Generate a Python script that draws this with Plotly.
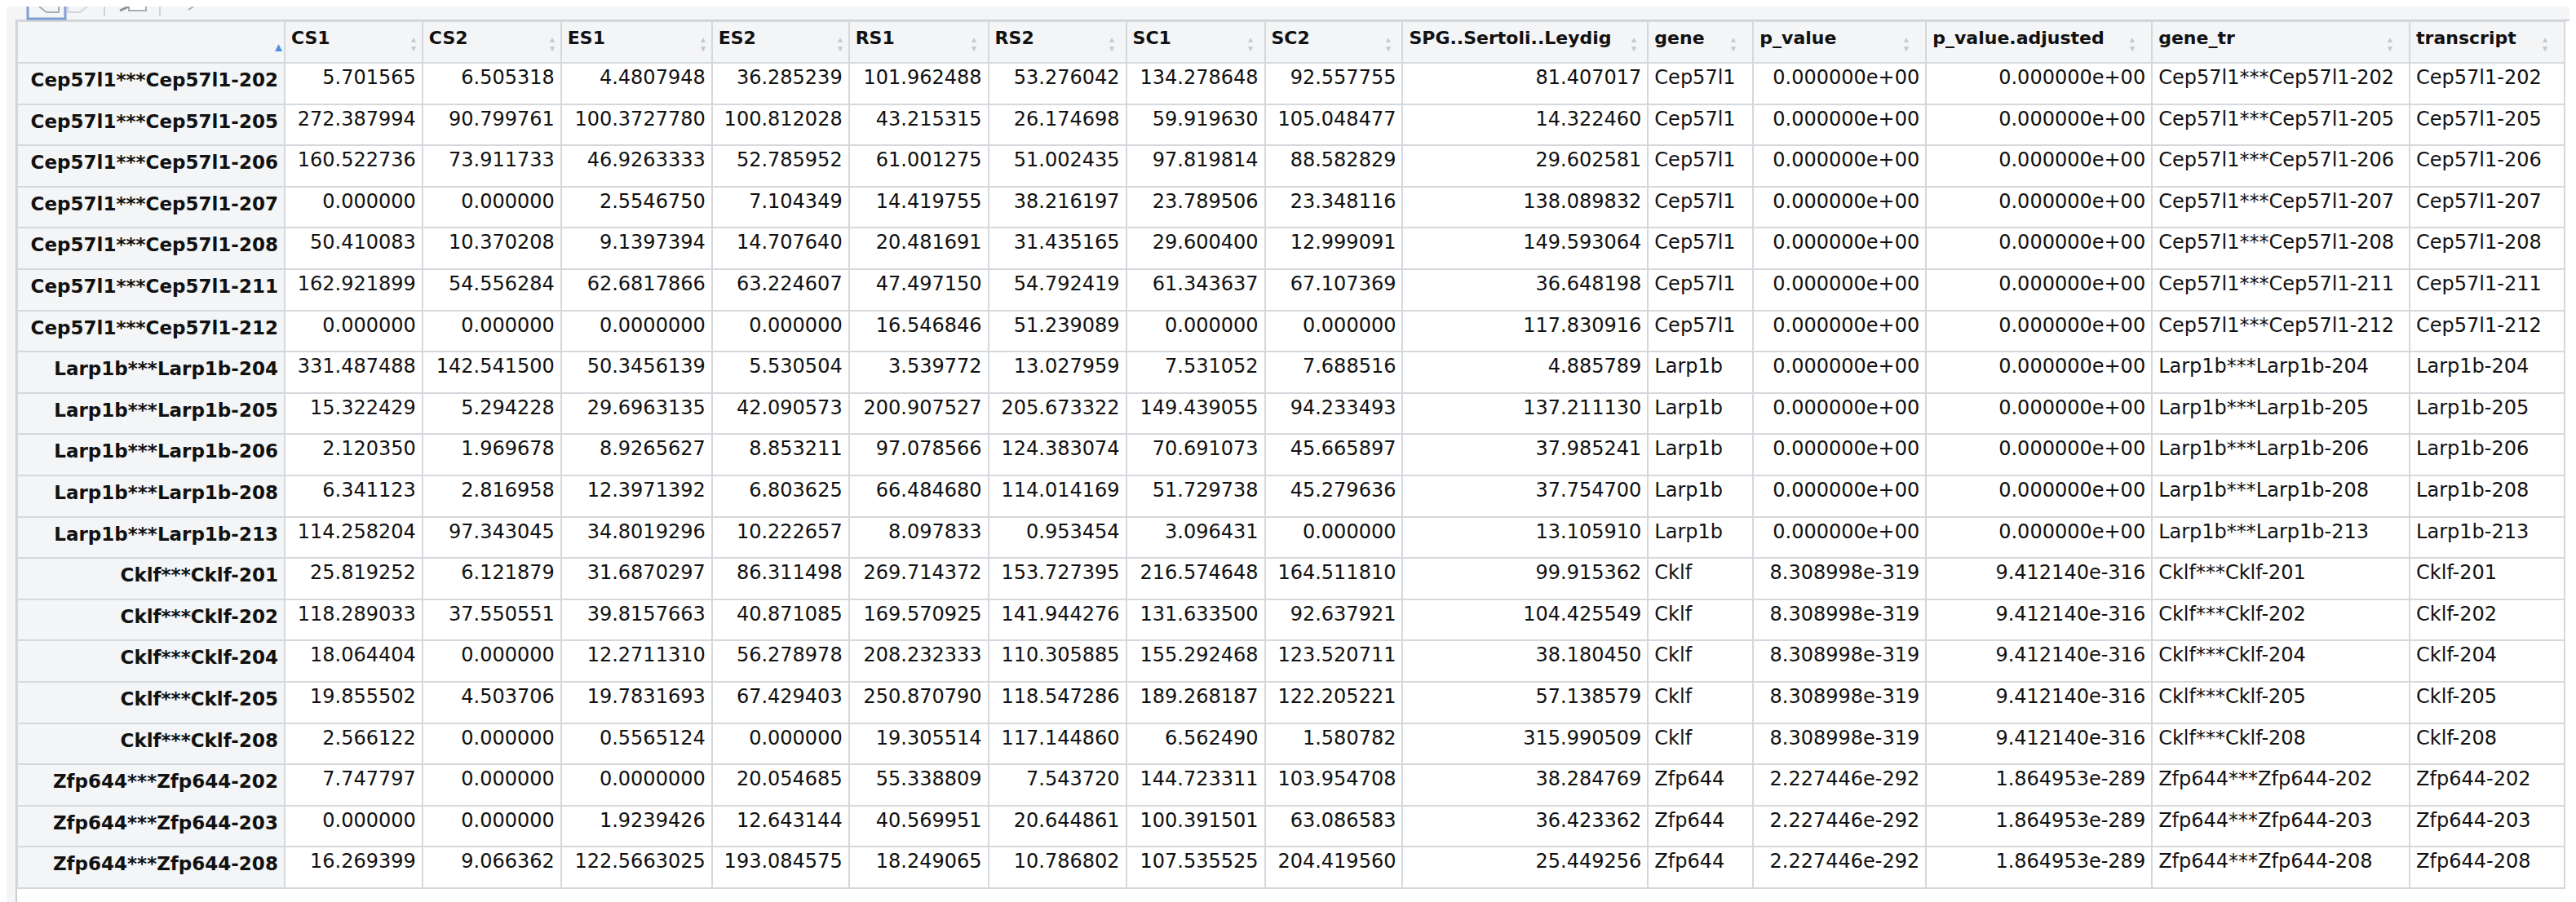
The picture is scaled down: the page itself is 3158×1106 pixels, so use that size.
import plotly.graph_objects as go

# ---------------- data ----------------
row_names = [
    "Cep57l1***Cep57l1-202", "Cep57l1***Cep57l1-205", "Cep57l1***Cep57l1-206",
    "Cep57l1***Cep57l1-207", "Cep57l1***Cep57l1-208", "Cep57l1***Cep57l1-211",
    "Cep57l1***Cep57l1-212", "Larp1b***Larp1b-204", "Larp1b***Larp1b-205",
    "Larp1b***Larp1b-206", "Larp1b***Larp1b-208", "Larp1b***Larp1b-213",
    "Cklf***Cklf-201", "Cklf***Cklf-202", "Cklf***Cklf-204", "Cklf***Cklf-205",
    "Cklf***Cklf-208", "Zfp644***Zfp644-202", "Zfp644***Zfp644-203",
    "Zfp644***Zfp644-208",
]
CS1 = [5.701565, 272.387994, 160.522736, 0.0, 50.410083, 162.921899, 0.0,
       331.487488, 15.322429, 2.120350, 6.341123, 114.258204,
       25.819252, 118.289033, 18.064404, 19.855502, 2.566122,
       7.747797, 0.0, 16.269399]
CS2 = [6.505318, 90.799761, 73.911733, 0.0, 10.370208, 54.556284, 0.0,
       142.541500, 5.294228, 1.969678, 2.816958, 97.343045,
       6.121879, 37.550551, 0.0, 4.503706, 0.0,
       0.0, 0.0, 9.066362]
ES1 = [4.4807948, 100.3727780, 46.9263333, 2.5546750, 9.1397394, 62.6817866, 0.0,
       50.3456139, 29.6963135, 8.9265627, 12.3971392, 34.8019296,
       31.6870297, 39.8157663, 12.2711310, 19.7831693, 0.5565124,
       0.0, 1.9239426, 122.5663025]
ES2 = [36.285239, 100.812028, 52.785952, 7.104349, 14.707640, 63.224607, 0.0,
       5.530504, 42.090573, 8.853211, 6.803625, 10.222657,
       86.311498, 40.871085, 56.278978, 67.429403, 0.0,
       20.054685, 12.643144, 193.084575]
RS1 = [101.962488, 43.215315, 61.001275, 14.419755, 20.481691, 47.497150, 16.546846,
       3.539772, 200.907527, 97.078566, 66.484680, 8.097833,
       269.714372, 169.570925, 208.232333, 250.870790, 19.305514,
       55.338809, 40.569951, 18.249065]
RS2 = [53.276042, 26.174698, 51.002435, 38.216197, 31.435165, 54.792419, 51.239089,
       13.027959, 205.673322, 124.383074, 114.014169, 0.953454,
       153.727395, 141.944276, 110.305885, 118.547286, 117.144860,
       7.543720, 20.644861, 10.786802]
SC1 = [134.278648, 59.919630, 97.819814, 23.789506, 29.600400, 61.343637, 0.0,
       7.531052, 149.439055, 70.691073, 51.729738, 3.096431,
       216.574648, 131.633500, 155.292468, 189.268187, 6.562490,
       144.723311, 100.391501, 107.535525]
SC2 = [92.557755, 105.048477, 88.582829, 23.348116, 12.999091, 67.107369, 0.0,
       7.688516, 94.233493, 45.665897, 45.279636, 0.0,
       164.511810, 92.637921, 123.520711, 122.205221, 1.580782,
       103.954708, 63.086583, 204.419560]
SPG = [81.407017, 14.322460, 29.602581, 138.089832, 149.593064, 36.648198, 117.830916,
       4.885789, 137.211130, 37.985241, 37.754700, 13.105910,
       99.915362, 104.425549, 38.180450, 57.138579, 315.990509,
       38.284769, 36.423362, 25.449256]
gene = ["Cep57l1"] * 7 + ["Larp1b"] * 5 + ["Cklf"] * 5 + ["Zfp644"] * 3
p_value = (["0.000000e+00"] * 12 + ["8.308998e-319"] * 5 + ["2.227446e-292"] * 3)
p_value_adjusted = (["0.000000e+00"] * 12 + ["9.412140e-316"] * 5 + ["1.864953e-289"] * 3)
gene_tr = list(row_names)
transcript = [
    "Cep57l1-202", "Cep57l1-205", "Cep57l1-206", "Cep57l1-207", "Cep57l1-208",
    "Cep57l1-211", "Cep57l1-212", "Larp1b-204", "Larp1b-205", "Larp1b-206",
    "Larp1b-208", "Larp1b-213", "Cklf-201", "Cklf-202", "Cklf-204", "Cklf-205",
    "Cklf-208", "Zfp644-202", "Zfp644-203", "Zfp644-208",
]
headers = ["", "CS1", "CS2", "ES1", "ES2", "RS1", "RS2", "SC1", "SC2",
           "SPG..Sertoli..Leydig", "gene", "p_value", "p_value.adjusted",
           "gene_tr", "transcript"]

# ---------------- layout constants ----------------
W, H = 3158, 1106
col_px = [328, 169, 170, 185, 168, 171, 169, 170, 169, 301, 129, 212, 277, 316, 190]
X0 = 13
TOP = 18
HEAD_H = 51
ROW_H = 50.6
BORDER = "#d5d8dc"
PANEL = "#f3f5f7"

columns = [
    ["<b>" + r + "</b>" for r in row_names],
    CS1, CS2, ES1, ES2, RS1, RS2, SC1, SC2, SPG,
    gene, p_value, p_value_adjusted, gene_tr, transcript,
]
fmts = ["", ".6f", ".6f", ".7f", ".6f", ".6f", ".6f", ".6f", ".6f", ".6f",
        "", "", "", "", ""]
aligns = ["right"] + ["right"] * 9 + ["left", "right", "right", "left", "left"]
fills = [PANEL] + ["white"] * 14
sizes = [23] + [24] * 14


def px(x):
    return x / W


def py(y):
    return 1 - y / H


x1 = X0 + sum(col_px)
fig = go.Figure()

# container / toolbar background
fig.add_shape(type="rect", xref="paper", yref="paper", x0=0, x1=1, y0=0, y1=1,
              fillcolor=PANEL, line_width=0, layer="below")
fig.add_shape(type="rect", xref="paper", yref="paper",
              x0=px(X0 - 1), x1=1.01, y0=-0.01, y1=py(TOP - 1),
              fillcolor="white", line=dict(color="#c9ccd0", width=2), layer="below")

fig.add_trace(go.Table(
    domain=dict(x=[px(X0), px(x1)], y=[0, py(TOP)]),
    columnwidth=col_px,
    header=dict(
        values=["<b>" + h + "</b>" if h else "" for h in headers],
        fill_color=PANEL,
        align=["left"] * len(headers),
        font=dict(family="DejaVu Sans", size=22, color="#111111"),
        line=dict(color=BORDER, width=2),
        height=HEAD_H,
    ),
    cells=dict(
        values=columns,
        format=fmts,
        fill_color=fills,
        align=aligns,
        font=dict(family="DejaVu Sans", size=sizes, color="#111111"),
        line=dict(color=BORDER, width=2),
        height=ROW_H,
    ),
))

# sort indicators in the header (positions derived from column widths)
edge = X0
for i, w in enumerate(col_px):
    edge += w
    if i == 0:
        cx = edge - 17
        fig.add_annotation(x=px(cx), y=py(TOP + 19), xref="paper", yref="paper",
                           text="▲", showarrow=False,
                           font=dict(size=15, color="#4a90e2"))
    else:
        cx = edge - 18
        fig.add_annotation(x=px(cx), y=py(TOP + 13), xref="paper", yref="paper",
                           text="▲", showarrow=False,
                           font=dict(size=10, color="#c4c8cc"))
        fig.add_annotation(x=px(cx), y=py(TOP + 24), xref="paper", yref="paper",
                           text="▼", showarrow=False,
                           font=dict(size=10, color="#c4c8cc"))

# toolbar hints (partially visible icons at the very top)
fig.add_shape(type="rect", xref="paper", yref="paper",
              x0=px(26), x1=px(72), y0=py(15), y1=1.01,
              fillcolor="rgba(0,0,0,0)", line=dict(color="#7f9fd4", width=3))
fig.add_shape(type="path", xref="paper", yref="paper",
              path=f"M {px(40)} {py(0)} L {px(49)} {py(7)} L {px(64)} {py(7)} L {px(64)} {py(0)}",
              line=dict(color="#a9adb2", width=2))
fig.add_shape(type="path", xref="paper", yref="paper",
              path=f"M {px(75)} {py(0)} L {px(75)} {py(7)} L {px(90)} {py(7)} L {px(99)} {py(0)}",
              line=dict(color="#d3d6da", width=2))
fig.add_shape(type="rect", xref="paper", yref="paper",
              x0=px(150), x1=px(171), y0=py(5), y1=1.01,
              fillcolor="white", line=dict(color="#a9adb2", width=2))
fig.add_shape(type="line", xref="paper", yref="paper",
              x0=px(139), x1=px(150), y0=py(5), y1=py(0),
              line=dict(color="#8d9297", width=3))
fig.add_shape(type="line", xref="paper", yref="paper",
              x0=px(223), x1=px(229), y0=py(4), y1=py(0),
              line=dict(color="#a9adb2", width=2))
for sx in (120, 188):
    fig.add_shape(type="line", xref="paper", yref="paper",
                  x0=px(sx), x1=px(sx), y0=py(12), y1=1,
                  line=dict(color="#d0d3d6", width=2))

fig.update_layout(
    width=W, height=H,
    margin=dict(l=0, r=0, t=0, b=0),
    paper_bgcolor=PANEL,
    plot_bgcolor=PANEL,
)
fig.write_html("out.html")
